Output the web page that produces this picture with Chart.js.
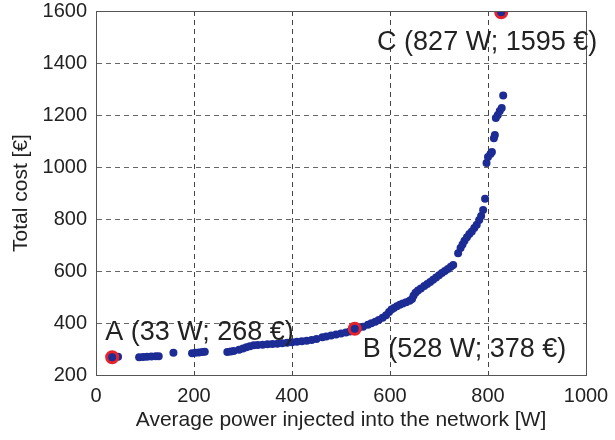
<!DOCTYPE html>
<html>
<head>
<meta charset="utf-8">
<script src="https://cdn.jsdelivr.net/npm/chart.js@4/dist/chart.umd.min.js"></script>
<style>
  html, body { margin: 0; padding: 0; background: #fff; }
  #wrap { width: 615px; height: 440px; }
</style>
</head>
<body>
<div id="wrap"><canvas id="costChart"></canvas></div>
<script>
// simulated solutions: average injected power [W] and total cost [€]
var powerW = [
  33, 45, 88, 96, 104, 113, 122, 128, 158, 196, 203, 210, 217, 222,
  268, 275, 281, 292, 300, 307, 314, 322, 330, 340, 350, 360, 370, 380,
  390, 400, 410, 420, 430, 440, 450, 462, 470, 480, 490, 500, 510, 518,
  528, 535, 545, 555, 562, 570, 577, 585, 592, 598, 603, 608, 614, 620,
  626, 633, 640, 645, 648, 652, 657, 663, 670, 676, 682, 688, 694, 700,
  706, 712, 718, 724, 729, 739, 744, 748, 752, 757, 762, 767, 772, 777,
  782, 786, 790, 794, 797, 800, 805, 808, 812, 814, 816, 820, 824, 828, 831
];
var costEur = [
  268, 270, 268, 269, 270, 271, 272, 272, 286, 284, 286, 287, 288, 289,
  288, 290, 292, 297, 302, 307, 311, 314, 315, 316, 318, 319, 320, 322,
  324, 326, 328, 330, 332, 335, 338, 345, 348, 352, 356, 360, 363, 367,
  378, 380, 386, 393, 399, 405, 412, 420, 430, 442, 452, 458, 464, 470,
  475, 480, 486, 492, 505, 516, 525, 533, 542, 550, 558, 566, 575, 584,
  592, 600, 608, 616, 623, 668, 688, 702, 716, 730, 742, 752, 765, 778,
  796, 812, 835, 878, 1015, 1038, 1050, 1058, 1111, 1123, 1188, 1200, 1215, 1227, 1275
];

// highlighted points A, B, C
var markNames = ['A', 'B', 'C'];
var markPower = [33, 528, 827];
var markCost = [268, 378, 1595];

var xTicks = [0, 200, 400, 600, 800, 1000];
var yTicks = [200, 400, 600, 800, 1000, 1200, 1400, 1600];

var blue = '#1c2c94';
var red = '#e6222b';
var ink = '#222';

var points = powerW.map(function(w, i) { return { x: w, y: costEur[i] }; });
var marks = markPower.map(function(w, i) { return { x: w, y: markCost[i] }; });

// label placement relative to each highlighted point (pixels)
var labelOffsets = [
  { dx: -7, dy: -25, align: 'left' },
  { dx: 8, dy: 21, align: 'left' },
  { dx: 96, dy: 30, align: 'right' }
];

var framePlugin = {
  id: 'frame',
  afterDatasetsDraw: function(chart) {
    var ctx = chart.ctx, a = chart.chartArea;
    ctx.save();
    ctx.strokeStyle = '#555';
    ctx.lineWidth = 1;
    ctx.strokeRect(a.left + 0.5, a.top + 0.5, a.right - a.left, a.bottom - a.top);

    var xs = chart.scales.x, ys = chart.scales.y;
    ctx.fillStyle = ink;
    ctx.font = '27px "Liberation Sans", Arial, sans-serif';
    ctx.textBaseline = 'middle';
    markNames.forEach(function(n, i) {
      var px = xs.getPixelForValue(markPower[i]);
      var py = ys.getPixelForValue(markCost[i]);
      var o = labelOffsets[i];
      ctx.textAlign = o.align;
      var txt = n + ' (' + markPower[i] + ' W; ' + markCost[i] + ' \u20ac)';
      ctx.fillText(txt, px + o.dx, py + o.dy);
    });
    ctx.restore();
  }
};

function plain(v) { return String(v); }

Chart.defaults.font.family = '"Liberation Sans", Arial, sans-serif';
Chart.defaults.color = ink;

new Chart(document.getElementById('costChart'), {
  type: 'scatter',
  data: {
    datasets: [{
      data: marks,
      pointRadius: 5.5,
      pointBackgroundColor: blue,
      pointBorderColor: red,
      pointBorderWidth: 3,
      order: 0
    }, {
      data: points,
      pointRadius: 4,
      pointBackgroundColor: blue,
      pointBorderWidth: 0,
      order: 1
    }]
  },
  options: {
    responsive: true,
    maintainAspectRatio: false,
    animation: false,
    layout: { padding: { top: 11, right: 29, left: 0, bottom: 0 } },
    plugins: {
      legend: { display: false },
      tooltip: { enabled: false }
    },
    scales: {
      x: {
        type: 'linear',
        min: 0,
        max: 1000,
        afterBuildTicks: function(s) { s.ticks = xTicks.map(function(v) { return { value: v }; }); },
        afterFit: function(s) { s.height = 65; s.paddingLeft = 0; s.paddingRight = 0; },
        ticks: { font: { size: 20 }, padding: 9, color: ink, maxRotation: 0, callback: plain },
        grid: { color: '#444', drawTicks: false },
        border: { color: '#555', dash: [5, 4] },
        title: {
          display: true,
          text: 'Average power injected into the network [W]',
          font: { size: 21 },
          color: ink,
          padding: { top: 0, bottom: 7 }
        }
      },
      y: {
        type: 'linear',
        min: 200,
        max: 1600,
        afterBuildTicks: function(s) { s.ticks = yTicks.map(function(v) { return { value: v }; }); },
        afterFit: function(s) { s.width = 96; s.paddingTop = 0; s.paddingBottom = 0; },
        ticks: { font: { size: 20 }, padding: 9, color: ink, callback: plain },
        grid: { color: '#666', drawTicks: false },
        border: { color: '#555', dash: [5, 4] },
        title: {
          display: true,
          text: 'Total cost [\u20ac]',
          font: { size: 21 },
          color: ink,
          padding: { top: 9, bottom: 0 }
        }
      }
    }
  },
  plugins: [framePlugin]
});
</script>
</body>
</html>
